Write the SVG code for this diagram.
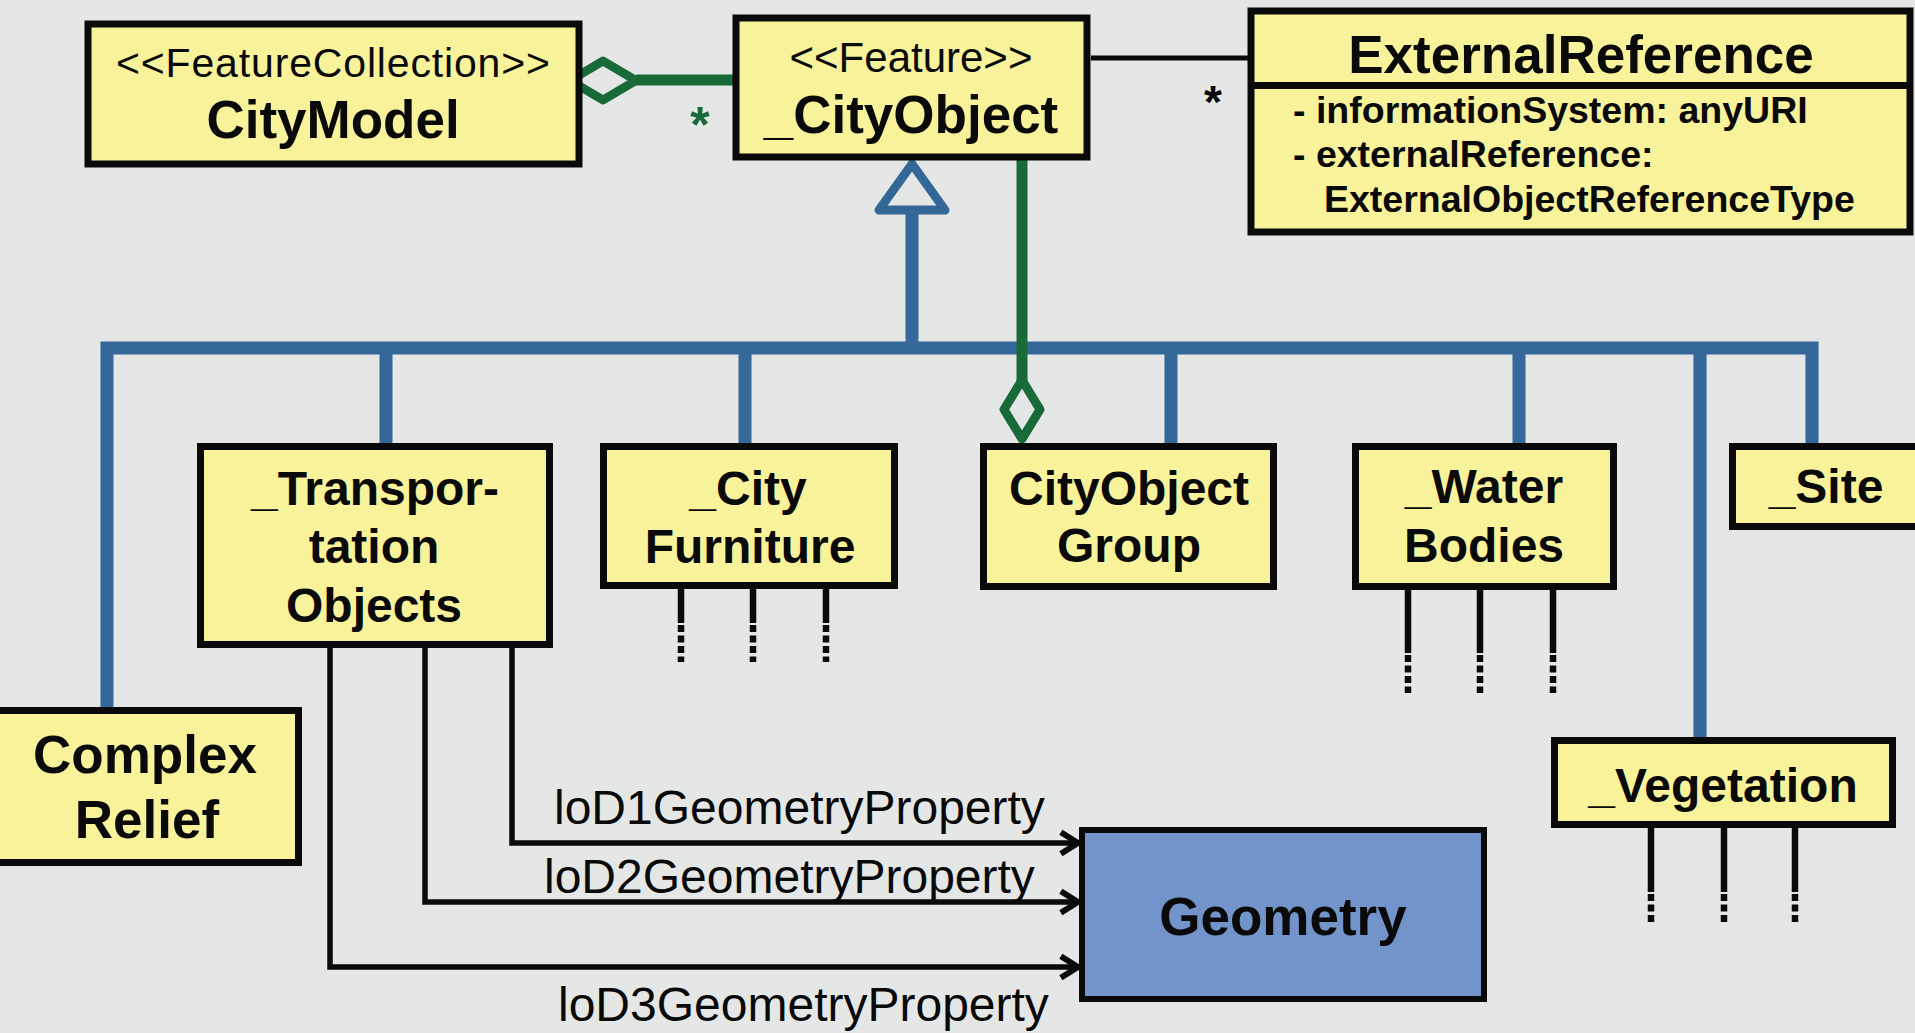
<svg xmlns="http://www.w3.org/2000/svg" width="1915" height="1033" viewBox="0 0 1915 1033">
  <style>
    .cls { fill: #f8f39b; stroke: #0a0a0a; stroke-width: 7; }
    .geo { fill: #7393cb; stroke: #0a0a0a; stroke-width: 6; }
    .t { font-family: "Liberation Sans", Arial, sans-serif; fill: #0a0a0a; }
    .b { font-weight: bold; }
    .mid { text-anchor: middle; }
    .gen { fill: none; stroke: #336899; stroke-width: 13; stroke-linejoin: miter; }
    .agg { fill: #e5e7e6; stroke: #186a38; stroke-width: 9; stroke-linejoin: round; }
    .green { fill: none; stroke: #186a38; stroke-width: 11; }
    .tail { stroke: #0a0a0a; stroke-width: 6.5; }
    .tailDash { stroke: #0a0a0a; stroke-width: 6.5; stroke-dasharray: 7 3.5; }
    .assoc { fill: none; stroke: #0a0a0a; stroke-width: 5.5; }
  </style>
  <defs>
    <marker id="open-arrow" markerUnits="userSpaceOnUse" markerWidth="30" markerHeight="30" viewBox="-20 -14 24 28" refX="0" refY="0" orient="auto">
      <path d="M-16,-10 L0,0 L-16,10" fill="none" stroke="#0a0a0a" stroke-width="5.5" stroke-linejoin="miter"/>
    </marker>
  </defs>

  <rect width="1915" height="1033" fill="#e5e7e6"/>

  <!-- connectors -->
  <g id="connectors">
    <!-- generalization tree -->
    <path class="gen" d="M107,707 V348 H1812 V443"/>
    <line class="gen" x1="912" y1="208" x2="912" y2="348"/>
    <line class="gen" x1="386" y1="348" x2="386" y2="443"/>
    <line class="gen" x1="745" y1="348" x2="745" y2="443"/>
    <line class="gen" x1="1171" y1="348" x2="1171" y2="443"/>
    <line class="gen" x1="1519" y1="348" x2="1519" y2="443"/>
    <line class="gen" x1="1700" y1="348" x2="1700" y2="737"/>
    <path d="M912,164 L945,210 L879,210 Z" fill="#e5e7e6" stroke="#336899" stroke-width="9" stroke-linejoin="round"/>

    <!-- CityModel aggregation -->
    <line class="green" x1="636" y1="80" x2="733" y2="80"/>
    <path class="agg" d="M570,80.5 L603,61 L636,80.5 L603,100 Z"/>
    <text class="t b" x="700" y="142" font-size="50" style="fill:#186a38" text-anchor="middle">*</text>

    <!-- CityObjectGroup aggregation -->
    <line class="green" x1="1022" y1="160" x2="1022" y2="381"/>
    <path class="agg" d="M1022,380 L1040,409.5 L1022,439 L1004,409.5 Z"/>

    <!-- external reference association -->
    <line x1="1091" y1="58" x2="1248" y2="58" stroke="#0a0a0a" stroke-width="5"/>
    <text class="t b mid" x="1213" y="118" font-size="46">*</text>

    <!-- geometry properties -->
    <path class="assoc" d="M512,648 V843 H1078" marker-end="url(#open-arrow)"/>
    <path class="assoc" d="M425,648 V902 H1078" marker-end="url(#open-arrow)"/>
    <path class="assoc" d="M330,648 V967 H1078" marker-end="url(#open-arrow)"/>
    <text class="t" x="554" y="824" font-size="48">loD1GeometryProperty</text>
    <text class="t" x="544" y="893" font-size="48">loD2GeometryProperty</text>
    <text class="t" x="558" y="1021" font-size="48">loD3GeometryProperty</text>

    <!-- elided sub-associations -->
    <g id="furniture-tails">
      <line class="tail" x1="681" y1="588" x2="681" y2="623"/>
      <line class="tail" x1="753" y1="588" x2="753" y2="623"/>
      <line class="tail" x1="826" y1="588" x2="826" y2="623"/>
      <line class="tailDash" x1="681" y1="625" x2="681" y2="662"/>
      <line class="tailDash" x1="753" y1="625" x2="753" y2="662"/>
      <line class="tailDash" x1="826" y1="625" x2="826" y2="662"/>
    </g>
    <g id="water-tails">
      <line class="tail" x1="1408" y1="589" x2="1408" y2="653"/>
      <line class="tail" x1="1480" y1="589" x2="1480" y2="653"/>
      <line class="tail" x1="1553" y1="589" x2="1553" y2="653"/>
      <line class="tailDash" x1="1408" y1="655" x2="1408" y2="693"/>
      <line class="tailDash" x1="1480" y1="655" x2="1480" y2="693"/>
      <line class="tailDash" x1="1553" y1="655" x2="1553" y2="693"/>
    </g>
    <g id="vegetation-tails">
      <line class="tail" x1="1651" y1="827" x2="1651" y2="892"/>
      <line class="tail" x1="1724" y1="827" x2="1724" y2="892"/>
      <line class="tail" x1="1795" y1="827" x2="1795" y2="892"/>
      <line class="tailDash" x1="1651" y1="894" x2="1651" y2="925"/>
      <line class="tailDash" x1="1724" y1="894" x2="1724" y2="925"/>
      <line class="tailDash" x1="1795" y1="894" x2="1795" y2="925"/>
    </g>
  </g>

  <!-- classes -->
  <g id="CityModel">
    <rect class="cls" x="88" y="24" width="491" height="140" stroke-width="6.5"/>
    <text class="t mid" x="333" y="77" font-size="41" textLength="434">&lt;&lt;FeatureCollection&gt;&gt;</text>
    <text class="t b mid" x="333" y="138" font-size="53">CityModel</text>
  </g>

  <g id="CityObject">
    <rect class="cls" x="736" y="18" width="351" height="139" stroke-width="7.5"/>
    <text class="t mid" x="911" y="72" font-size="42">&lt;&lt;Feature&gt;&gt;</text>
    <text class="t b mid" x="911" y="133" font-size="53">_CityObject</text>
  </g>

  <g id="ExternalReference">
    <rect class="cls" x="1251" y="11" width="659" height="221" stroke-width="8"/>
    <line x1="1251" y1="85.5" x2="1910" y2="85.5" stroke="#0a0a0a" stroke-width="7"/>
    <text class="t b mid" x="1581" y="73" font-size="53">ExternalReference</text>
    <text class="t b" x="1293" y="123" font-size="37.5">- informationSystem: anyURI</text>
    <text class="t b" x="1293" y="167" font-size="37.5">- externalReference:</text>
    <text class="t b" x="1324" y="212" font-size="37.5">ExternalObjectReferenceType</text>
  </g>

  <g id="TransportationObjects">
    <rect class="cls" x="200.5" y="446.5" width="349" height="198"/>
    <text class="t b mid" x="375" y="505" font-size="48">_Transpor-</text>
    <text class="t b mid" x="374" y="563" font-size="48">tation</text>
    <text class="t b mid" x="374" y="622" font-size="48">Objects</text>
  </g>

  <g id="CityFurniture">
    <rect class="cls" x="603.5" y="446.5" width="291" height="139"/>
    <text class="t b mid" x="748" y="505" font-size="48">_City</text>
    <text class="t b mid" x="750" y="563" font-size="48">Furniture</text>
  </g>

  <g id="CityObjectGroup">
    <rect class="cls" x="983.5" y="446.5" width="290" height="140"/>
    <text class="t b mid" x="1129" y="505" font-size="48">CityObject</text>
    <text class="t b mid" x="1129" y="562" font-size="48">Group</text>
  </g>

  <g id="WaterBodies">
    <rect class="cls" x="1355.5" y="446.5" width="258" height="140"/>
    <text class="t b mid" x="1484" y="503" font-size="48">_Water</text>
    <text class="t b mid" x="1484" y="562" font-size="48">Bodies</text>
  </g>

  <g id="Site">
    <rect class="cls" x="1732.5" y="446.5" width="200" height="80"/>
    <text class="t b mid" x="1826" y="503" font-size="48">_Site</text>
  </g>

  <g id="ComplexRelief">
    <rect class="cls" x="-10" y="710.5" width="308.5" height="152"/>
    <text class="t b mid" x="145" y="773" font-size="53">Complex</text>
    <text class="t b mid" x="147" y="838" font-size="53">Relief</text>
  </g>

  <g id="Vegetation">
    <rect class="cls" x="1554.5" y="740.5" width="338" height="84"/>
    <text class="t b mid" x="1723" y="802" font-size="48">_Vegetation</text>
  </g>

  <g id="Geometry">
    <rect class="geo" x="1082" y="830" width="402" height="169"/>
    <text class="t b mid" x="1283" y="935" font-size="53">Geometry</text>
  </g>
</svg>
